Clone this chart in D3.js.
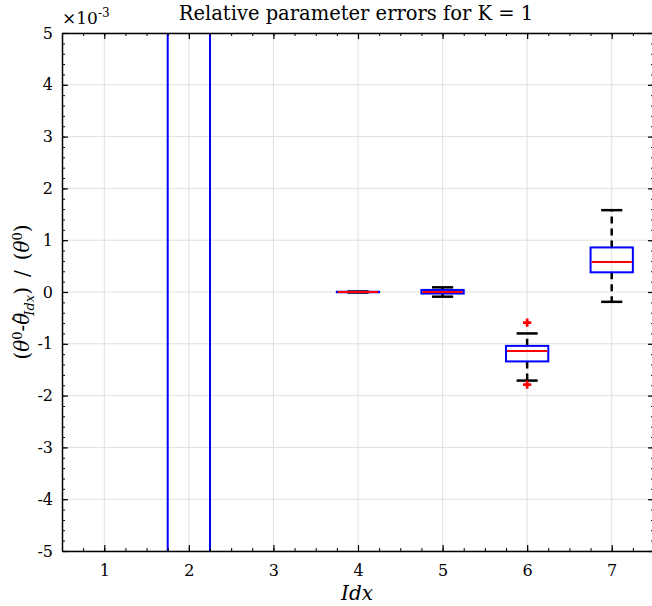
<!DOCTYPE html>
<html>
<head>
<meta charset="utf-8">
<script src="https://cdn.jsdelivr.net/npm/d3@7"></script>
<style>
  body { margin: 0; background: #fff; }
  svg text { font-family: "DejaVu Serif", serif; fill: #000; }
</style>
</head>
<body>
<svg id="chart_svg" width="652" height="606"></svg>
<script>
// values in units of 1e-3
const idx = [1, 2, 3, 4, 5, 6, 7];
const whiskLo = [14, -60, -30, -0.01, -0.09, -1.71, -0.19];
const q1      = [16, -40, -22, -0.005, -0.03, -1.34, 0.38];
const median  = [18, 12, -15, 0.0, 0.0, -1.14, 0.58];
const q3      = [21, 60, -10, 0.005, 0.04, -1.04, 0.86];
const whiskHi = [24, 90, -7, 0.01, 0.09, -0.80, 1.58];
const outliers = [[], [], [], [], [], [-0.59, -1.79], []];
const yTicks = [-5, -4, -3, -2, -1, 0, 1, 2, 3, 4, 5];

const boxes = idx.map((k, i) => ({
  k, lo: whiskLo[i], q1: q1[i], med: median[i], q3: q3[i], hi: whiskHi[i], out: outliers[i]
}));

const svg = d3.select("#chart_svg"),
  margin = {top: 33, right: -2, bottom: 55, left: 62},
  width = 652 - margin.left - margin.right,
  height = 606 - margin.top - margin.bottom,
  g = svg.append("g").attr("transform", "translate(" + margin.left + "," + margin.top + ")");

const x = d3.scaleLinear().domain([0.5, 7.5]).range([0, width]),
  y = d3.scaleLinear().domain([-5, 5]).range([height, 0]);

const xMinor = d3.range(0.5, 7.51, 0.25),
  yMinor = d3.range(-5, 5.01, 0.2);

svg.append("defs").append("clipPath").attr("id", "clip")
  .append("rect").attr("width", width).attr("height", height);

// grid
g.append("g").selectAll("line").data(idx).enter().append("line")
  .attr("x1", d => x(d)).attr("x2", d => x(d)).attr("y1", 0).attr("y2", height)
  .attr("stroke", "#e0e0e0").attr("stroke-width", 1);
g.append("g").selectAll("line").data(yTicks).enter().append("line")
  .attr("x1", 0).attr("x2", width).attr("y1", d => y(d)).attr("y2", d => y(d))
  .attr("stroke", "#e0e0e0").attr("stroke-width", 1);

// boxes
const plot = g.append("g").attr("clip-path", "url(#clip)");
const bw = 0.5, cw = 0.25;
const box = plot.selectAll(".box").data(boxes).enter().append("g").attr("class", "box");

box.append("line")
  .attr("x1", d => x(d.k)).attr("x2", d => x(d.k))
  .attr("y1", d => y(d.q3)).attr("y2", d => y(d.hi))
  .attr("stroke", "#000").attr("stroke-width", 2.5).attr("stroke-dasharray", "7,5");
box.append("line")
  .attr("x1", d => x(d.k)).attr("x2", d => x(d.k))
  .attr("y1", d => y(d.q1)).attr("y2", d => y(d.lo))
  .attr("stroke", "#000").attr("stroke-width", 2.5).attr("stroke-dasharray", "7,5");
["hi", "lo"].forEach(key => {
  box.append("line")
    .attr("x1", d => x(d.k - cw / 2)).attr("x2", d => x(d.k + cw / 2))
    .attr("y1", d => y(d[key])).attr("y2", d => y(d[key]))
    .attr("stroke", "#000").attr("stroke-width", 2.5);
});
box.append("rect")
  .attr("x", d => x(d.k - bw / 2)).attr("width", d => x(d.k + bw / 2) - x(d.k - bw / 2))
  .attr("y", d => y(d.q3)).attr("height", d => Math.max(y(d.q1) - y(d.q3), 0.5))
  .attr("fill", "none").attr("stroke", "#0000ff").attr("stroke-width", 2);
box.append("line")
  .attr("x1", d => x(d.k - bw / 2) + 1).attr("x2", d => x(d.k + bw / 2) - 1)
  .attr("y1", d => y(d.med)).attr("y2", d => y(d.med))
  .attr("stroke", "#ff0000").attr("stroke-width", 2);
box.selectAll(".out").data(d => d.out.map(v => ({k: d.k, v}))).enter()
  .append("path").attr("class", "out")
  .attr("d", d3.symbol(d3.symbolCross, 38))
  .attr("transform", d => "translate(" + x(d.k) + "," + y(d.v) + ")")
  .attr("fill", "#ff0000");

// axes
const styleAxis = sel => {
  sel.select(".domain").attr("stroke", "#000").attr("stroke-width", 1.5);
  sel.selectAll(".tick line").attr("stroke", "#000").attr("stroke-width", 1.2);
  sel.selectAll("text").style("font-size", "16px").style("font-family", "'DejaVu Serif', serif");
};
const minor = (axis, scale, vals, pos) => g.append("g").attr("transform", pos)
  .call(axis(scale).tickValues(vals).tickSize(-3).tickFormat(""))
  .call(s => { s.select(".domain").remove(); s.selectAll("line").attr("stroke", "#000"); });

minor(d3.axisBottom, x, xMinor, "translate(0," + height + ")");
minor(d3.axisTop, x, xMinor, "translate(0,0)");
minor(d3.axisLeft, y, yMinor, "translate(0,0)");
minor(d3.axisRight, y, yMinor, "translate(" + width + ",0)");

g.append("g").attr("transform", "translate(0," + height + ")")
  .call(d3.axisBottom(x).tickValues(idx).tickSize(-6).tickSizeOuter(0).tickPadding(14)
    .tickFormat(d3.format("d")))
  .call(styleAxis);
g.append("g")
  .call(d3.axisTop(x).tickValues(idx).tickSize(-6).tickSizeOuter(0).tickFormat(""))
  .call(styleAxis);
g.append("g")
  .call(d3.axisLeft(y).tickValues(yTicks).tickSize(-6).tickSizeOuter(0).tickPadding(9)
    .tickFormat(d => String(d).replace("\u2212", "-")))
  .call(styleAxis);
g.append("g").attr("transform", "translate(" + width + ",0)")
  .call(d3.axisRight(y).tickValues(yTicks).tickSize(-6).tickSizeOuter(0).tickFormat(""))
  .call(styleAxis);

// texts
svg.append("text")
  .attr("x", 356).attr("y", 20).attr("text-anchor", "middle")
  .style("font-size", "19.5px").text("Relative parameter errors for K = 1");

const ex = svg.append("text").attr("x", 62).attr("y", 24).style("font-size", "17px");
ex.append("tspan").text("\u00d710");
ex.append("tspan").attr("dy", -7).style("font-size", "12px").text("-3");

svg.append("text")
  .attr("x", 357).attr("y", 600).attr("text-anchor", "middle")
  .style("font-size", "20px").style("font-style", "italic").text("Idx");

const yl = svg.append("text")
  .attr("transform", "translate(29," + (margin.top + y(0)) + ") rotate(-90)")
  .attr("text-anchor", "middle").style("font-size", "20px");
yl.append("tspan").text("(");
yl.append("tspan").style("font-style", "italic").text("\u03b8");
yl.append("tspan").attr("dy", -7).style("font-size", "13px").text("0");
yl.append("tspan").attr("dy", 7).text("-");
yl.append("tspan").style("font-style", "italic").text("\u03b8");
yl.append("tspan").attr("dx", -10).attr("dy", -4).style("font-size", "16px").text("\u02c6");
yl.append("tspan").attr("dx", -1).attr("dy", 9).style("font-size", "13px").style("font-style", "italic").text("Idx");
yl.append("tspan").attr("dy", -5).text(")\u2002/\u2002(");
yl.append("tspan").style("font-style", "italic").text("\u03b8");
yl.append("tspan").attr("dy", -7).style("font-size", "13px").text("0");
yl.append("tspan").attr("dy", 7).text(")");
</script>
</body>
</html>
